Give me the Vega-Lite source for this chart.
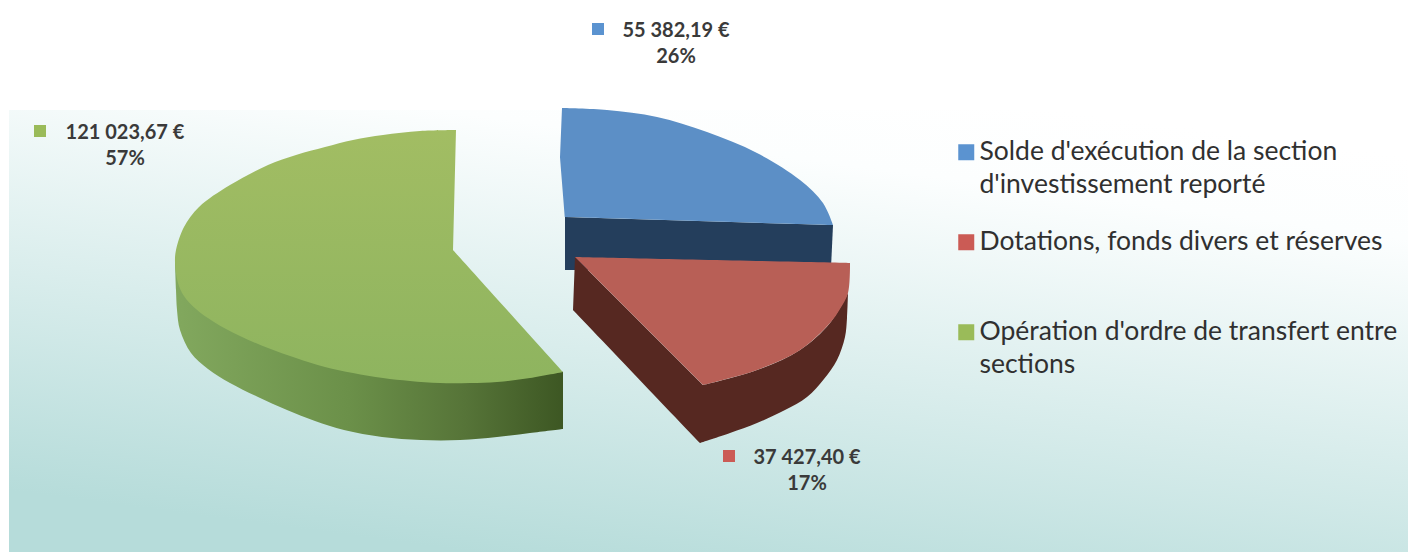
{
"$schema":"https://vega.github.io/schema/vega-lite/v6.json",
"width":1408,"height":552,"padding":0,"autosize":{"type":"none"},"background":"white",
"config":{"view":{"stroke":null},"font":"Lato"},
"datasets":{
"fond":[{"x0":9,"x1":1408,"y0":110,"y1":552}],
"parts":[
{"serie":"Solde d'exécution de la section d'investissement reporté","montant":55382.19,"part":26,"etiquette":"55 382,19 €\n26%","px":598,"py":29,"tx":676,"ty":31},
{"serie":"Dotations, fonds divers et réserves","montant":37427.40,"part":17,"etiquette":"37 427,40 €\n17%","px":729,"py":456,"tx":807,"ty":458},
{"serie":"Opération d'ordre de transfert entre sections","montant":121023.67,"part":57,"etiquette":"121 023,67 €\n57%","px":40,"py":131,"tx":125,"ty":133}
],
"gt":[{"o":0,"x":456,"y":130},{"o":0.5,"x":456,"y":130},{"o":1,"x":420,"y":131},{"o":2,"x":383,"y":135},{"o":3,"x":353,"y":140},{"o":4,"x":325,"y":147},{"o":5,"x":296,"y":155},{"o":6,"x":268,"y":165},{"o":8,"x":230,"y":185},{"o":10,"x":199,"y":207},{"o":12,"x":184,"y":227},{"o":14,"x":176,"y":250},{"o":15,"x":175,"y":262},{"o":17,"x":178,"y":283},{"o":18,"x":184,"y":296},{"o":19,"x":196,"y":309},{"o":20,"x":214,"y":322},{"o":21,"x":240,"y":336},{"o":22,"x":268,"y":348},{"o":23,"x":296,"y":358},{"o":24,"x":325,"y":367},{"o":25,"x":353,"y":373},{"o":26,"x":383,"y":378},{"o":27,"x":410,"y":381},{"o":28,"x":440,"y":383},{"o":29,"x":470,"y":383},{"o":30,"x":497,"y":382},{"o":31,"x":530,"y":378},{"o":32,"x":563,"y":372},{"o":32.5,"x":563,"y":372},{"o":33,"x":453,"y":250},{"o":33.5,"x":453,"y":250}],
"gs":[{"o":0,"x":175,"y":262},{"o":0.5,"x":175,"y":262},{"o":1,"x":176,"y":290},{"o":2,"x":177,"y":310},{"o":3,"x":180,"y":330},{"o":4,"x":191,"y":353},{"o":5,"x":208,"y":369},{"o":6,"x":230,"y":383},{"o":7,"x":258,"y":397},{"o":8,"x":287,"y":410},{"o":9,"x":315,"y":421},{"o":10,"x":344,"y":430},{"o":11,"x":382,"y":437},{"o":12,"x":421,"y":440},{"o":13,"x":460,"y":440},{"o":14,"x":497,"y":437},{"o":15,"x":530,"y":433},{"o":16,"x":563,"y":429},{"o":16.5,"x":563,"y":429},{"o":17,"x":563,"y":372},{"o":17.5,"x":563,"y":372},{"o":18,"x":453,"y":300},{"o":18.5,"x":453,"y":300},{"o":19,"x":300,"y":280},{"o":19.5,"x":300,"y":280}],
"bt":[{"o":0,"x":562,"y":108},{"o":0.5,"x":562,"y":108},{"o":1,"x":607,"y":110},{"o":2,"x":657,"y":117},{"o":3,"x":707,"y":132},{"o":4,"x":757,"y":153},{"o":6,"x":800,"y":180},{"o":8,"x":823,"y":203},{"o":10,"x":833,"y":225},{"o":10.5,"x":833,"y":225},{"o":11,"x":565,"y":217},{"o":11.5,"x":565,"y":217},{"o":13,"x":560,"y":157},{"o":13.5,"x":560,"y":157}],
"bs":[{"o":0,"x":565,"y":217},{"o":1,"x":833,"y":225},{"o":2,"x":831,"y":268},{"o":3,"x":600,"y":270},{"o":4,"x":565,"y":270}],
"rt":[{"o":0,"x":575,"y":257},{"o":0.5,"x":575,"y":257},{"o":1,"x":850,"y":263},{"o":1.5,"x":850,"y":263},{"o":2,"x":848,"y":293},{"o":3,"x":840,"y":309},{"o":4,"x":830,"y":323},{"o":6,"x":800,"y":350},{"o":8,"x":757,"y":370},{"o":9,"x":730,"y":378},{"o":10,"x":703,"y":385},{"o":10.5,"x":703,"y":385}],
"rs":[{"o":0,"x":575,"y":257},{"o":0.5,"x":575,"y":257},{"o":1,"x":703,"y":385},{"o":1.5,"x":703,"y":385},{"o":2,"x":757,"y":370},{"o":3,"x":800,"y":350},{"o":4,"x":830,"y":323},{"o":5,"x":848,"y":293},{"o":5.5,"x":848,"y":293},{"o":6,"x":847,"y":318},{"o":7,"x":845,"y":337},{"o":8,"x":837,"y":360},{"o":9,"x":824,"y":379},{"o":10,"x":807,"y":397},{"o":11,"x":785,"y":410},{"o":12,"x":757,"y":423},{"o":13,"x":730,"y":433},{"o":14,"x":700,"y":443},{"o":14.5,"x":700,"y":443},{"o":15,"x":573,"y":310},{"o":15.5,"x":573,"y":310}]
},
"data":{"name":"parts"},
"encoding":{
"x":{"type":"quantitative","scale":{"domain":[0,1408],"nice":false,"zero":false},"axis":null},
"y":{"type":"quantitative","scale":{"domain":[552,0],"nice":false,"zero":false},"axis":null}
},
"layer":[
{"data":{"name":"fond"},"mark":{"type":"rect","color":{"gradient":"linear","x1":0.8,"y1":0.02,"x2":0.38,"y2":1.02,"stops":[{"offset":0,"color":"#ffffff"},{"offset":0.16,"color":"#fcfefe"},{"offset":1,"color":"#b6dcda"}]}},
 "encoding":{"x":{"field":"x0"},"x2":{"field":"x1"},"y":{"field":"y0"},"y2":{"field":"y1"}}},
{"data":{"name":"bs"},"mark":{"type":"line","filled":true,"color":"#243e5c","strokeWidth":0},"encoding":{"x":{"field":"x"},"y":{"field":"y"},"order":{"field":"o"}}},
{"data":{"name":"bt"},"mark":{"type":"line","interpolate":"catmull-rom","filled":true,"color":"#5c8fc6","strokeWidth":0},"encoding":{"x":{"field":"x"},"y":{"field":"y"},"order":{"field":"o"}}},
{"data":{"name":"rs"},"mark":{"type":"line","interpolate":"catmull-rom","filled":true,"color":"#562821","strokeWidth":0},"encoding":{"x":{"field":"x"},"y":{"field":"y"},"order":{"field":"o"}}},
{"data":{"name":"rt"},"mark":{"type":"line","interpolate":"catmull-rom","filled":true,"color":"#b85f56","strokeWidth":0},"encoding":{"x":{"field":"x"},"y":{"field":"y"},"order":{"field":"o"}}},
{"data":{"name":"gs"},"mark":{"type":"line","interpolate":"catmull-rom","filled":true,"strokeWidth":0,"color":{"gradient":"linear","x1":0,"y1":0,"x2":1,"y2":0,"stops":[{"offset":0,"color":"#82a85e"},{"offset":0.45,"color":"#6b9049"},{"offset":0.75,"color":"#567438"},{"offset":1,"color":"#3d5723"}]}},"encoding":{"x":{"field":"x"},"y":{"field":"y"},"order":{"field":"o"}}},
{"data":{"name":"gt"},"mark":{"type":"line","interpolate":"catmull-rom","filled":true,"strokeWidth":0,"color":{"gradient":"linear","x1":0,"y1":0,"x2":0,"y2":1,"stops":[{"offset":0,"color":"#a2bd63"},{"offset":1,"color":"#8eb45f"}]}},"encoding":{"x":{"field":"x"},"y":{"field":"y"},"order":{"field":"o"}}},
{"mark":{"type":"point","shape":"square","filled":true,"size":144,"opacity":1,"strokeWidth":0},
 "encoding":{"x":{"field":"px"},"y":{"field":"py"},
  "color":{"field":"serie","type":"nominal","scale":{"domain":["Solde d'exécution de la section d'investissement reporté","Dotations, fonds divers et réserves","Opération d'ordre de transfert entre sections"],"range":["#5b93d0","#cb5b55","#9abb59"]},
   "legend":{"title":null,"orient":"none","legendX":953,"legendY":139,"padding":0,"symbolType":"square","symbolSize":256,"symbolStrokeWidth":0,"symbolOpacity":1,"labelFontSize":26.5,"labelFont":"Lato","labelColor":"#303030","labelOffset":0,"labelLimit":500,"gridAlign":"all","rowPadding":30,
   "labelExpr":"datum.label[0]=='S' ? ['Solde d\\'exécution de la section','d\\'investissement reporté'] : datum.label[0]=='O' ? ['Opération d\\'ordre de transfert entre','sections'] : datum.label",
   "encoding":{"labels":{"lineHeight":{"value":33}}}}}}},
{"mark":{"type":"text","align":"center","baseline":"middle","lineBreak":"\n","lineHeight":26,"fontSize":20,"fontWeight":"bold","color":"#3a3a3a"},
 "encoding":{"x":{"field":"tx"},"y":{"field":"ty"},"text":{"field":"etiquette"}}}
]
}
